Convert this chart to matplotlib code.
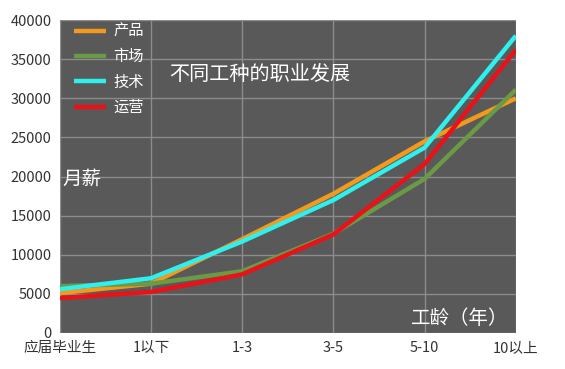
import matplotlib
matplotlib.use("Agg")
import matplotlib.pyplot as plt

plt.rcParams['font.family'] = ['Noto Sans CJK SC', 'DejaVu Sans']

categories = ["应届毕业生", "1以下", "1-3", "3-5", "5-10", "10以上"]
series_names = ["产品", "市场", "技术", "运营"]
product = [5100, 6300, 12000, 17800, 24500, 30000]
market = [6000, 6300, 7900, 12700, 19700, 31100]
tech = [5600, 7000, 11700, 17000, 23700, 38000]
ops = [4450, 5250, 7500, 12600, 21600, 36200]
yticks = [0, 5000, 10000, 15000, 20000, 25000, 30000, 35000, 40000]

colors = ["#f39a1e", "#6a9a45", "#2ef0ee", "#ea1118"]

fig = plt.figure(figsize=(5.65, 3.69), dpi=100)
ax = fig.add_axes([0.106, 0.0976, 0.807, 0.848])
ax.set_facecolor("#595959")
x = list(range(len(categories)))
for vals, name, c in zip([product, market, tech, ops], series_names, colors):
    ax.plot(x, vals, color=c, lw=3.2, label=name, solid_capstyle='butt')

ax.set_xlim(0, len(categories) - 1)
ax.set_ylim(0, 40000)
ax.set_xticks(x)
ax.set_xticklabels(categories)
ax.set_yticks(yticks)
ax.grid(True, color="#8c8c8c", lw=1)
ax.set_axisbelow(True)
ax.tick_params(length=0, labelsize=10.5, colors="#333333", pad=6)
for s in ax.spines.values():
    s.set_visible(False)

leg = ax.legend(loc="upper left", frameon=False, fontsize=11, labelcolor="white",
                handlelength=2.1, handletextpad=0.5, labelspacing=0.55,
                bbox_to_anchor=(0.0, 1.035))

ax.text(0.24, 0.825, "不同工种的职业发展", transform=ax.transAxes, color="white",
        fontsize=14.5, ha="left", va="center")
ax.text(0.005, 0.49, "月薪", transform=ax.transAxes, color="white",
        fontsize=14, ha="left", va="center")
ax.text(0.77, 0.045, "工龄（年）", transform=ax.transAxes, color="white",
        fontsize=14, ha="left", va="center")

fig.savefig("out.png", dpi=100, facecolor="white")
